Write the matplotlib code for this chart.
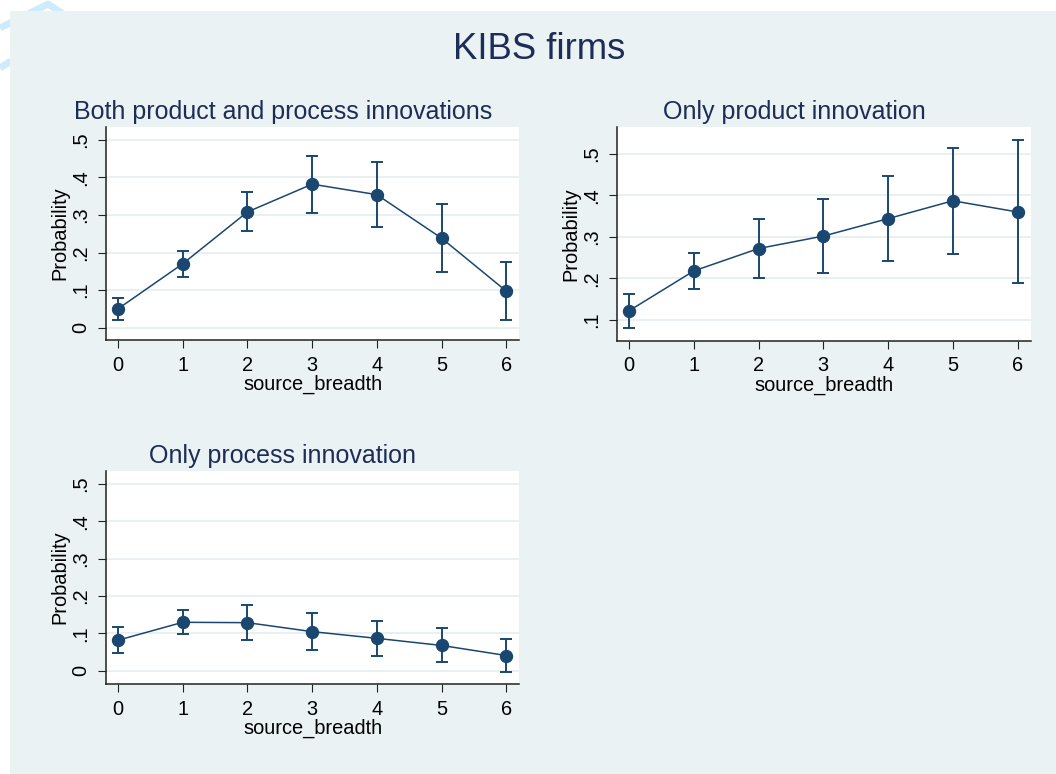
import matplotlib
matplotlib.use("Agg")
import matplotlib.pyplot as plt
from matplotlib.lines import Line2D

plt.rcParams['font.family'] = ['Liberation Sans', 'DejaVu Sans']

# ---- data -------------------------------------------------------------
source_breadth = [0, 1, 2, 3, 4, 5, 6]

both_prob = [0.050, 0.170, 0.308, 0.382, 0.354, 0.238, 0.097]
both_lo   = [0.020, 0.136, 0.256, 0.306, 0.269, 0.147, 0.019]
both_hi   = [0.078, 0.204, 0.361, 0.456, 0.440, 0.329, 0.176]

prod_prob = [0.122, 0.218, 0.272, 0.302, 0.344, 0.387, 0.360]
prod_lo   = [0.080, 0.175, 0.200, 0.213, 0.241, 0.258, 0.188]
prod_hi   = [0.163, 0.261, 0.344, 0.392, 0.446, 0.514, 0.533]

proc_prob = [0.082, 0.130, 0.129, 0.105, 0.087, 0.068, 0.041]
proc_lo   = [0.048, 0.098, 0.082, 0.056, 0.040, 0.023, -0.003]
proc_hi   = [0.118, 0.163, 0.175, 0.156, 0.134, 0.114, 0.085]

ticks_a = [0, 0.1, 0.2, 0.3, 0.4, 0.5]
labels_a = ["0", ".1", ".2", ".3", ".4", ".5"]
ticks_b = [0.1, 0.2, 0.3, 0.4, 0.5]
labels_b = [".1", ".2", ".3", ".4", ".5"]

main_title = "KIBS firms"
panel_titles = ["Both product and process innovations",
                "Only product innovation",
                "Only process innovation"]

# ---- style ------------------------------------------------------------
W, H = 1056, 774
BG = "#EAF2F3"
NAVY = "#1A476F"
TITLE_C = "#1E2D57"
GRID_C = "#E6EFF1"

fig = plt.figure(figsize=(W / 100, H / 100), dpi=100)
fig.patch.set_facecolor("white")


def px(x, y):
    return x / W, 1 - y / H


# faint logo strokes in the margin
for seg in ([(0, 28), (48, 4), (63, 14)], [(0, 68), (11, 61)]):
    xs, ys = zip(*[px(a, b) for a, b in seg])
    fig.add_artist(Line2D(xs, ys, transform=fig.transFigure, color="#CDEBFA",
                          lw=5, solid_capstyle="butt", zorder=0))

# graph region background
x0, y0 = px(10, 774)
x1, y1 = px(1056, 11)
fig.add_artist(plt.Rectangle((x0, y0), x1 - x0, y1 - y0, transform=fig.transFigure,
                             facecolor=BG, edgecolor="none", zorder=0.5))


def box(left, top, right, bottom):
    return [left / W, 1 - bottom / H, (right - left) / W, (bottom - top) / H]


def panel(rect, prob, lo, hi, ylim, ticks, labels):
    ax = fig.add_axes(rect)
    ax.set_facecolor("white")
    ax.set_zorder(2)
    yerr = [[p - l for p, l in zip(prob, lo)], [h - p for p, h in zip(prob, hi)]]
    ax.errorbar(source_breadth, prob, yerr=yerr, fmt="none", ecolor=NAVY,
                elinewidth=1.4, capsize=4.5, capthick=1.4, zorder=3)
    ax.plot(source_breadth, prob, color=NAVY, lw=1.1, marker="o", ms=8.6,
            mfc=NAVY, mec=NAVY, zorder=4)
    ax.set_xlim(-0.19, 6.2)
    ax.set_ylim(*ylim)
    ax.set_xticks(source_breadth)
    ax.set_yticks(ticks, labels)
    ax.yaxis.grid(True, color=GRID_C, lw=1.3)
    ax.set_axisbelow(True)
    for s in ("top", "right"):
        ax.spines[s].set_visible(False)
    for s in ("left", "bottom"):
        ax.spines[s].set_color("#222222")
        ax.spines[s].set_linewidth(1.1)
    ax.tick_params(length=5.8, width=0.8, color="#222222", pad=5.5,
                   labelsize=14.4, labelcolor="black")
    for lab in ax.get_yticklabels():
        lab.set_rotation(90)
        lab.set_va("center")
    ax.set_xlabel("source_breadth", fontsize=14.4, labelpad=0)
    ax.set_ylabel("Probability", fontsize=14.4, labelpad=1)
    return ax


panel(box(105.7, 126.7, 519.3, 340.0), both_prob, both_lo, both_hi,
      (-0.033, 0.535), ticks_a, labels_a)
panel(box(616.7, 127.3, 1030.6, 340.7), prod_prob, prod_lo, prod_hi,
      (0.050, 0.564), ticks_b, labels_b)
panel(box(105.7, 471.0, 519.3, 684.3), proc_prob, proc_lo, proc_hi,
      (-0.036, 0.535), ticks_a, labels_a)

# titles
fig.text(*px(538.8, 59.0), main_title, ha="center", va="baseline",
         fontsize=26.3, color=TITLE_C)
for (cx, by), t in zip([(283, 118.5), (794, 118.5), (282.5, 463.5)], panel_titles):
    fig.text(*px(cx, by), t, ha="center", va="baseline", fontsize=18.0,
             color=TITLE_C)

fig.savefig("out.png", dpi=100, facecolor=fig.get_facecolor())
